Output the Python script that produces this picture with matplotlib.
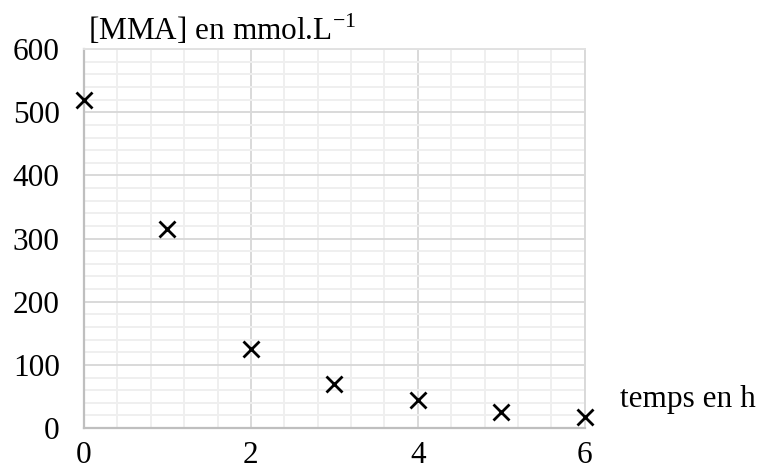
import matplotlib
matplotlib.use("Agg")
import matplotlib.pyplot as plt
from matplotlib.ticker import MultipleLocator

# Concentration of MMA over time
temps_h = [0, 1, 2, 3, 4, 5, 6]
mma_mmol_L = [520, 315, 125, 70, 45, 25, 17]

plt.rcParams['font.family'] = ['Liberation Serif', 'DejaVu Serif']
plt.rcParams['mathtext.fontset'] = 'custom'
plt.rcParams['mathtext.rm'] = 'Liberation Serif'

fig = plt.figure(figsize=(7.6, 4.72), dpi=100)
ax = fig.add_axes([0.1105, 0.093, 0.659, 0.803])

ax.set_xlim(0, 6)
ax.set_ylim(0, 600)
ax.xaxis.set_major_locator(MultipleLocator(2))
ax.xaxis.set_minor_locator(MultipleLocator(0.4))
ax.yaxis.set_major_locator(MultipleLocator(100))
ax.yaxis.set_minor_locator(MultipleLocator(20))

ax.grid(which='minor', color='#efefef', linewidth=1.4)
ax.grid(which='major', color='#d9d9d9', linewidth=1.4)
ax.set_axisbelow(True)

for side in ('left', 'bottom'):
    ax.spines[side].set_color('#bfbfbf')
    ax.spines[side].set_linewidth(1.6)
ax.spines['right'].set_color('#d9d9d9')
ax.spines['right'].set_linewidth(1.4)
ax.spines['top'].set_color('#e2e2e2')
ax.spines['top'].set_linewidth(1.4)

ax.tick_params(which='both', length=0, labelsize=22.5)
ax.tick_params(axis='y', pad=17.5)
ax.tick_params(axis='x', pad=9)

ax.plot(temps_h, mma_mmol_L, linestyle='none', marker='x', markersize=11,
        markeredgewidth=2.0, color='black', clip_on=False, zorder=5)

fig.text(0.116, 0.915, r'[MMA] en mmol.L$^{\mathrm{-1}}$', fontsize=22.5,
         ha='left', va='baseline')
fig.text(0.816, 0.138, 'temps en h', fontsize=22.5, ha='left', va='baseline')

fig.savefig('out.png', dpi=100)
